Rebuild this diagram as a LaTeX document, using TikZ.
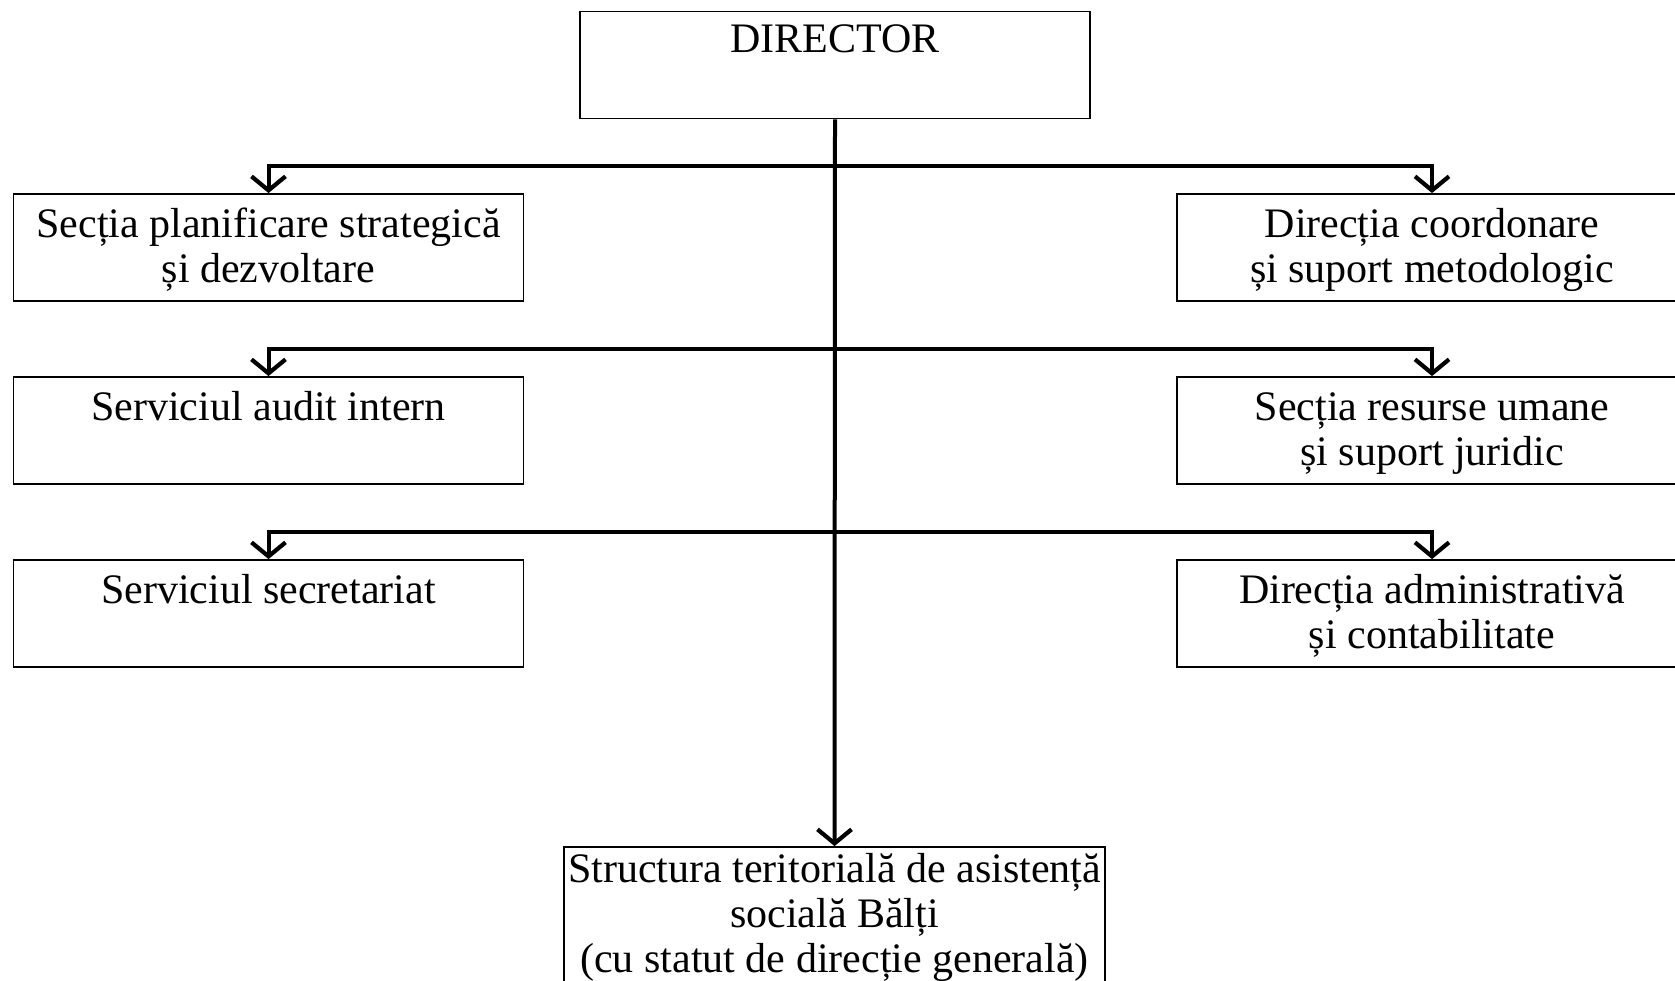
\documentclass[tikz,border=0pt]{standalone}
\usepackage{fontspec}
\setmainfont{Liberation Serif}
\usetikzlibrary{arrows.meta}
\begin{document}
\begin{tikzpicture}[x=1pt,y=-1pt,
  box/.style={draw, line width=1.8pt, rectangle, inner sep=0pt, minimum width=510pt, minimum height=107pt},
  txt/.style={anchor=north, inner sep=0pt, align=center, font=\fontsize{42}{45}\selectfont},
  conn/.style={line width=4pt, -{Straight Barb[length=14pt,width=34pt,line width=4.2pt]}},
  plain/.style={line width=4pt}]
\useasboundingbox (0,0) rectangle (1675,981);
\clip (0,0) rectangle (1675,981);
\fill[white] (0,0) rectangle (1675,981);
% boxes
\node[box] (dir) at (835,65) {};
\node[box] (l1) at (268.5,247.5) {};
\node[box] (r1) at (1432,247.5) {};
\node[box] (l2) at (268.5,430.5) {};
\node[box] (r2) at (1432,430.5) {};
\node[box] (l3) at (268.5,613.5) {};
\node[box] (r3) at (1432,613.5) {};
\node[box, minimum width=541pt, minimum height=160pt] (bot) at (834.5,927) {};
% texts
\node[txt] (tdir) at (835,21) {\strut DIRECTOR};
\node[txt] (tl1) at (268.5,205.5) {\strut Secția planificare strategică\\și dezvoltare};
\node[txt] (tr1) at (1432,205.5) {\strut Direcția coordonare\\și suport metodologic};
\node[txt] (tl2) at (268.5,388.5) {\strut Serviciul audit intern};
\node[txt] (tr2) at (1432,388.5) {\strut Secția resurse umane\\și suport juridic};
\node[txt] (tl3) at (268.5,571.5) {\strut Serviciul secretariat};
\node[txt] (tr3) at (1432,571.5) {\strut Direcția administrativă\\și contabilitate};
\node[txt] (tbot) at (834.5,850.5) {\strut Structura teritorială de asistență\\socială Bălți\\(cu statut de direcție generală)};
% junctions
\coordinate (j1) at (dir.south |- 0,166);
\coordinate (j2) at (dir.south |- 0,349);
\coordinate (j3) at (dir.south |- 0,532);
% connectors
\draw[conn] (dir.south) -- (bot.north);
\draw[conn] (j1) -| (l1.north);
\draw[conn] (j1) -| (r1.north);
\draw[conn] (j2) -| (l2.north);
\draw[conn] (j2) -| (r2.north);
\draw[conn] (j3) -| (l3.north);
\draw[conn] (j3) -| (r3.north);
\end{tikzpicture}
\end{document}
